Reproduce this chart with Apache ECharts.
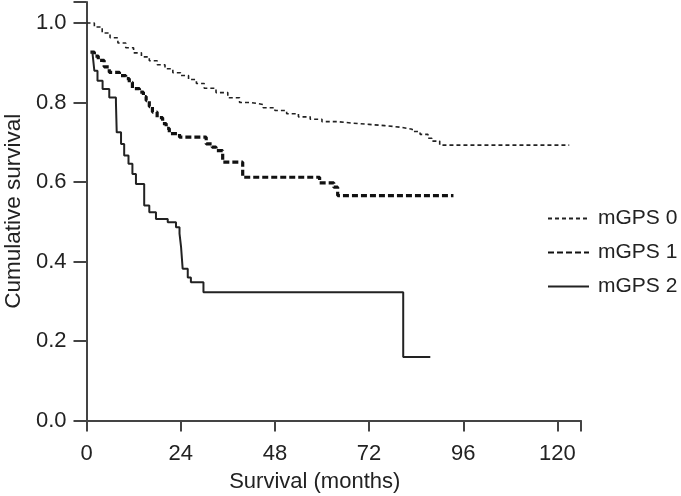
<!DOCTYPE html>
<html>
<head>
<meta charset="utf-8">
<script src="https://cdn.jsdelivr.net/npm/echarts@6/dist/echarts.min.js"></script>
<style>
html,body{margin:0;padding:0;background:#fff;}
#chart{width:681px;height:496px;}
</style>
</head>
<body>
<div id="chart"></div>
<script>
// Kaplan-Meier curves: [month, cumulative survival]
const seriesNames = ['mGPS 0', 'mGPS 1', 'mGPS 2'];
const xTicks = [0, 24, 48, 72, 96, 120];
const yTicks = [0.0, 0.2, 0.4, 0.6, 0.8, 1.0];

const mgps0 = [
  [0, 1.0], [2, 0.99], [4, 0.975], [6, 0.963], [8, 0.95], [10, 0.938],
  [12, 0.925], [14, 0.915], [16, 0.905], [18, 0.895], [20, 0.885],
  [22, 0.875], [24, 0.868], [26, 0.858], [28, 0.848], [30, 0.836],
  [33, 0.825], [36, 0.812], [39, 0.8], [42, 0.795], [45, 0.787],
  [48, 0.78], [51, 0.772], [54, 0.764], [57, 0.758], [60, 0.752],
  [64, 0.748], [68, 0.745], [72, 0.742], [76, 0.738], [80, 0.733],
  [83, 0.727], [85, 0.72], [87, 0.71], [88, 0.703], [90, 0.693],
  [123, 0.693]
];

const mgps1 = [
  [1, 0.927], [2, 0.917], [3, 0.906], [4.5, 0.89], [5.8, 0.876],
  [8.4, 0.868], [10, 0.86], [10.9, 0.851], [11.7, 0.835], [13.5, 0.826],
  [14.5, 0.815], [15.2, 0.805], [16, 0.79], [16.8, 0.776], [18, 0.762],
  [19.4, 0.747], [20.3, 0.735], [21.1, 0.722], [23.7, 0.713],
  [30.5, 0.696], [32, 0.688], [33, 0.679], [34.7, 0.65], [39.8, 0.612],
  [59.4, 0.598], [63, 0.587], [64, 0.566], [93.5, 0.566]
];

const mgps2 = [
  [1.5, 0.927], [2, 0.88], [2.8, 0.855], [4.1, 0.834], [5.8, 0.813],
  [7.5, 0.8], [7.7, 0.725], [8.8, 0.696], [9.6, 0.667], [10.7, 0.646],
  [11.7, 0.62], [12.6, 0.595], [14.7, 0.541], [16, 0.524], [17.7, 0.507],
  [20.7, 0.499], [22.8, 0.486], [23.7, 0.47], [24.1, 0.436], [24.5, 0.382],
  [25.8, 0.36], [26.6, 0.348], [29.8, 0.323], [80.7, 0.16], [87.6, 0.16]
];

const FONT = '"Liberation Sans", Arial, Helvetica, sans-serif';
const INK = '#222';
const AXIS = '#444';

const chart = echarts.init(document.getElementById('chart'), null, {renderer: 'canvas'});

const option = {
  animation: false,
  backgroundColor: '#fff',
  textStyle: {fontFamily: FONT},
  grid: {left: 86.5, right: 100, top: 2, bottom: 75.5, containLabel: false, outerBoundsMode: 'none'},
  legend: {
    orient: 'vertical',
    left: 547,
    top: 208,
    itemWidth: 41,
    itemHeight: 14,
    itemGap: 13,
    padding: 0,
    itemStyle: {opacity: 0},
    textStyle: {fontSize: 21, color: INK, fontFamily: FONT, padding: [0, 0, 0, 4]},
    data: seriesNames
  },
  xAxis: {
    type: 'value',
    min: 0,
    max: 126,
    interval: 24,
    name: 'Survival (months)',
    nameLocation: 'middle',
    nameGap: 50,
    nameTextStyle: {fontSize: 22, color: INK, fontFamily: FONT, padding: [0, 38, 0, 0]},
    axisLine: {show: true, onZero: false, lineStyle: {color: AXIS, width: 2}},
    axisTick: {show: true, length: 11, lineStyle: {color: AXIS, width: 2}},
    axisLabel: {
      fontSize: 22, color: INK, margin: 22, fontFamily: FONT,
      formatter: v => (xTicks.indexOf(v) >= 0 ? String(v) : '')
    },
    splitLine: {show: false}
  },
  yAxis: {
    type: 'value',
    min: 0,
    max: 1.053,
    interval: 0.2,
    name: 'Cumulative survival',
    nameLocation: 'middle',
    nameGap: 57.5,
    nameRotate: 90,
    nameTextStyle: {fontSize: 22.5, color: INK, fontFamily: FONT},
    axisLine: {show: true, onZero: false, lineStyle: {color: AXIS, width: 2}},
    axisTick: {show: true, length: 13, lineStyle: {color: AXIS, width: 2}},
    axisLabel: {
      fontSize: 22, color: INK, margin: 20, fontFamily: FONT,
      formatter: v => (yTicks.some(t => Math.abs(t - v) < 1e-6) ? v.toFixed(1) : '')
    },
    splitLine: {show: false}
  },
  series: [
    {
      name: seriesNames[0], type: 'line', step: 'end', data: mgps0,
      symbol: 'none', silent: true,
      lineStyle: {color: INK, width: 1.6, type: [4, 3]},
      itemStyle: {color: INK}
    },
    {
      name: seriesNames[1], type: 'line', step: 'end', data: mgps1,
      symbol: 'none', silent: true,
      lineStyle: {color: '#111', width: 3.2, type: [6, 3]},
      itemStyle: {color: '#111'}
    },
    {
      name: seriesNames[2], type: 'line', step: 'end', data: mgps2,
      symbol: 'none', silent: true,
      lineStyle: {color: INK, width: 2},
      itemStyle: {color: INK}
    }
  ]
};
chart.setOption(option);
</script>
</body>
</html>
